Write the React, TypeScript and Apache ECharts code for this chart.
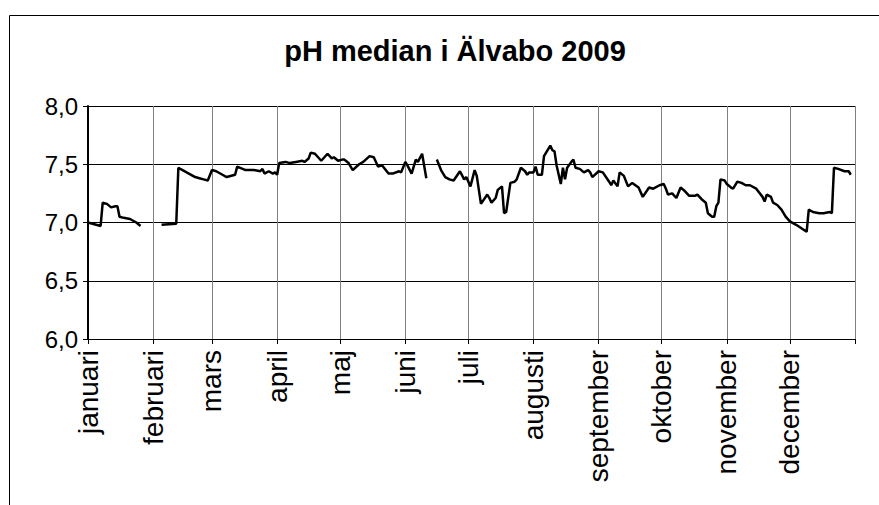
import React, { useEffect, useRef } from "react";
import * as echarts from "echarts";

// Day of year 2009 (0 = 1 januari); null marks a gap in the measurements
const dayOfYear: number[] = [
  0, 6, 7, 9, 11, 13, 14, 15, 17, 20, 23, 25, 30,
  35, 42, 43, 45, 48, 51, 53, 55, 57, 59, 61, 64, 66, 70, 71, 75, 79, 82, 83, 84, 86, 88, 89, 90,
  91, 94, 96, 99, 102, 103, 105, 106, 108, 111, 114, 116, 117, 119, 121, 122, 124, 126, 129, 131,
  134, 136, 138, 140, 143, 145, 148, 149, 151, 152, 154, 156, 157, 159, 161, 163,
  166, 168, 170, 172, 174, 177, 179, 180, 182, 184, 185, 187, 190, 191, 192, 194, 195, 197, 198,
  199, 201, 203, 204, 206, 208, 209, 210, 212, 213, 214, 216, 217, 220, 221, 222, 223, 225, 226,
  227, 228, 230, 231, 232, 234, 236, 238, 239, 240, 243, 245, 248, 249, 250, 252, 253, 255, 257,
  259, 262, 264, 267, 269, 272, 274, 275, 276, 278, 280, 282, 284, 286, 289, 290, 292, 294, 295,
  297, 298, 299, 300, 301, 303, 304, 306, 307, 309, 311, 313, 315, 318, 321, 322, 323, 325, 326,
  328, 330, 332, 334, 337, 342, 343, 345, 348, 350, 353, 354, 355, 357, 360, 362, 363,
];

const phMedian: (number | null)[] = [
  7.0, 6.97, 7.17, 7.16, 7.13, 7.14, 7.14, 7.05, 7.04, 7.03, 7.0, 6.97, null,
  6.98, 6.99, 7.47, 7.45, 7.42, 7.39, 7.38, 7.37, 7.36, 7.45, 7.44, 7.41, 7.39, 7.41, 7.48, 7.45, 7.45, 7.44, 7.46, 7.42, 7.44, 7.42, 7.43, 7.41,
  7.51, 7.52, 7.51, 7.52, 7.53, 7.52, 7.55, 7.6, 7.59, 7.53, 7.59, 7.55, 7.56, 7.53, 7.54, 7.54, 7.51, 7.45, 7.5, 7.52,
  7.57, 7.56, 7.48, 7.49, 7.42, 7.42, 7.44, 7.43, 7.52, 7.49, 7.42, 7.54, 7.52, 7.59, 7.38, null,
  7.54, 7.45, 7.39, 7.37, 7.36, 7.44, 7.37, 7.39, 7.31, 7.45, 7.4, 7.16, 7.24, 7.21, 7.17, 7.21, 7.28, 7.31, 7.08,
  7.09, 7.34, 7.35, 7.37, 7.47, 7.44, 7.41, 7.43, 7.43, 7.48, 7.41, 7.41, 7.57, 7.66, 7.62, 7.61, 7.49, 7.33, 7.47,
  7.37, 7.47, 7.52, 7.54, 7.47, 7.46, 7.43, 7.45, 7.43, 7.39, 7.44, 7.43, 7.35, 7.32, 7.36, 7.31, 7.43, 7.4, 7.31,
  7.34, 7.3, 7.22, 7.3, 7.29, 7.32, 7.33, 7.29, 7.24, 7.25, 7.21, 7.3, 7.27, 7.23, 7.23, 7.24, 7.2, 7.17, 7.08,
  7.05, 7.05, 7.14, 7.17, 7.37, 7.36, 7.33, 7.3, 7.29, 7.35, 7.34, 7.32, 7.32, 7.29, 7.22, 7.18, 7.24, 7.22, 7.17,
  7.15, 7.11, 7.05, 7.01, 6.98, 6.92, 7.11, 7.09, 7.08, 7.08, 7.09, 7.08, 7.47, 7.46, 7.44, 7.44, 7.41,
];

const monthNames: string[] = [
  "januari", "februari", "mars", "april", "maj", "juni",
  "juli", "augusti", "september", "oktober", "november", "december",
];
const monthStartDays: number[] = [0, 31, 59, 90, 120, 151, 181, 212, 243, 273, 304, 334, 365];

const yTicks: number[] = [6.0, 6.5, 7.0, 7.5, 8.0];

const titleText = "pH median i Älvabo 2009";

const FONT = 'Arial, "Liberation Sans", sans-serif';

export default function App() {
  const ref = useRef<HTMLDivElement>(null);

  useEffect(() => {
    if (!ref.current) return;
    const chart = echarts.init(ref.current, undefined, { renderer: "svg" });
    const seriesData = dayOfYear.map((d, i) => [d, phMedian[i] === null ? "-" : phMedian[i]]);
    chart.setOption({
      animation: false,
      backgroundColor: "#ffffff",
      graphic: [
        {
          type: "rect",
          shape: { x: 9.5, y: 15.5, width: 900, height: 520 },
          style: { fill: "none", stroke: "#000000", lineWidth: 1 },
          silent: true,
          z: -10,
        },
        {
          type: "text",
          x: 455,
          y: 51,
          style: {
            text: titleText,
            font: `bold 29px ${FONT}`,
            fill: "#000000",
            textAlign: "center",
            textVerticalAlign: "middle",
          },
        },
      ],
      grid: { left: 88, right: 24, top: 106, bottom: 166, containLabel: false },
      xAxis: {
        type: "value",
        min: 0,
        max: 365,
        axisLine: { show: true, lineStyle: { color: "#000000", width: 1 } },
        axisTick: {
          show: true,
          inside: false,
          length: 5,
          customValues: monthStartDays,
          lineStyle: { color: "#000000" },
        },
        axisLabel: {
          show: true,
          rotate: 90,
          margin: 11,
          customValues: monthStartDays.slice(0, 12),
          formatter: (v: number) => {
            const i = monthStartDays.indexOf(Math.round(v));
            return i >= 0 && i < 12 ? monthNames[i] : "";
          },
          fontFamily: FONT,
          fontSize: 28,
          color: "#000000",
        },
        splitLine: { show: true, lineStyle: { color: "#808080", width: 1 } },
      },
      yAxis: {
        type: "value",
        min: yTicks[0],
        max: yTicks[yTicks.length - 1],
        interval: 0.5,
        axisLine: { show: true, lineStyle: { color: "#000000", width: 2 } },
        axisTick: { show: true, inside: false, length: 5, lineStyle: { color: "#000000" } },
        axisLabel: {
          margin: 10,
          formatter: (v: number) => v.toFixed(1).replace(".", ","),
          fontFamily: FONT,
          fontSize: 24,
          color: "#000000",
        },
        splitLine: { show: true, lineStyle: { color: "#000000", width: 1 } },
      },
      series: [
        {
          type: "line",
          data: seriesData,
          showSymbol: false,
          connectNulls: false,
          lineStyle: { color: "#000000", width: 2.5 },
          itemStyle: { color: "#000000" },
          z: 3,
        },
      ],
    });
    return () => chart.dispose();
  }, []);

  return (
    <div
      ref={ref}
      style={{ position: "absolute", left: 0, top: 0, width: 879, height: 505, background: "#fff" }}
    />
  );
}
